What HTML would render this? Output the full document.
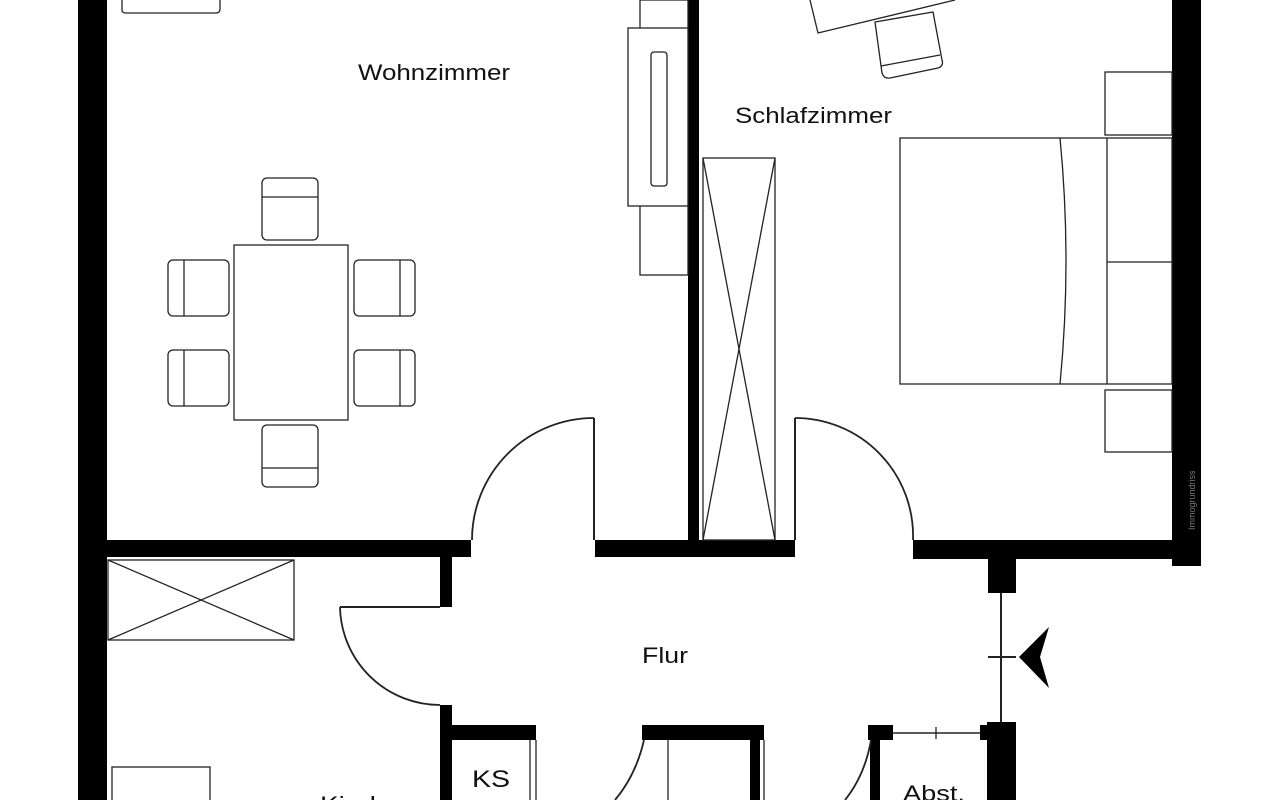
<!DOCTYPE html>
<html><head><meta charset="utf-8"><style>
html,body{margin:0;padding:0;background:#fff;}
svg{display:block;}
text{font-family:"Liberation Sans",sans-serif;fill:#111;}
</style></head><body>
<svg width="1280" height="800" viewBox="0 0 1280 800" xmlns="http://www.w3.org/2000/svg">
<g fill="#000">
<rect x="78" y="0" width="29" height="800"/>
<rect x="688" y="0" width="11" height="557"/>
<rect x="1172" y="0" width="29" height="566"/>
<rect x="106" y="540" width="365" height="17"/>
<rect x="595" y="540" width="200" height="17"/>
<rect x="913" y="540" width="288" height="19"/>
<rect x="988" y="556" width="28" height="37"/>
<rect x="987" y="722" width="29" height="78"/>
<rect x="980" y="725" width="10" height="15"/>
<rect x="440" y="557" width="12" height="50"/>
<rect x="440" y="705" width="12" height="95"/>
<rect x="452" y="725" width="84" height="15"/>
<rect x="642" y="725" width="122" height="15"/>
<rect x="750" y="740" width="10" height="60"/>
<rect x="868" y="725" width="25" height="15"/>
<rect x="870" y="740" width="10" height="60"/>
<path d="M1019,657 L1049,627 L1040,657 L1049,688 Z"/>
</g>
<g fill="none" stroke="#222" stroke-width="1.3">
<path d="M122,0 V10 Q122,13 126,13 H216 Q220,13 220,9 V0"/>
<rect x="640" y="0" width="48" height="275"/>
<rect x="628" y="28" width="60" height="178" fill="#fff"/>
<rect x="651" y="52" width="16" height="134" rx="3"/>
<rect x="234" y="245" width="114" height="175"/>
<rect x="262" y="178" width="56" height="62" rx="5"/><line x1="262" y1="197" x2="318" y2="197"/>
<rect x="262" y="425" width="56" height="62" rx="5"/><line x1="262" y1="468" x2="318" y2="468"/>
<rect x="168" y="260" width="61" height="56" rx="5"/><line x1="184" y1="260" x2="184" y2="316"/>
<rect x="168" y="350" width="61" height="56" rx="5"/><line x1="184" y1="350" x2="184" y2="406"/>
<rect x="354" y="260" width="61" height="56" rx="5"/><line x1="400" y1="260" x2="400" y2="316"/>
<rect x="354" y="350" width="61" height="56" rx="5"/><line x1="400" y1="350" x2="400" y2="406"/>
<line x1="594" y1="418" x2="594" y2="540" stroke-width="2"/>
<path d="M594,418 A122,122 0 0 0 472,540" stroke-width="1.8"/>
<path d="M810,0 L818,33 L955,0"/>
<path d="M875,22 L933,12 L942,60 Q944,66 938,68 L890,78 Q884,79 882,73 Z"/>
<line x1="881" y1="66" x2="940" y2="55"/>
<rect x="703" y="158" width="72" height="382"/>
<line x1="703" y1="158" x2="775" y2="540"/><line x1="775" y1="158" x2="703" y2="540"/>
<line x1="795" y1="418" x2="795" y2="540" stroke-width="2"/>
<path d="M795,418 A118,118 0 0 1 913,540" stroke-width="1.8"/>
<rect x="900" y="138" width="272" height="246"/>
<path d="M1060,138 Q1072,261 1060,384"/>
<line x1="1107" y1="138" x2="1107" y2="384"/>
<line x1="1107" y1="262" x2="1172" y2="262"/>
<rect x="1105" y="72" width="67" height="63"/>
<rect x="1105" y="390" width="67" height="62"/>
<rect x="108" y="560" width="186" height="80"/>
<line x1="108" y1="560" x2="294" y2="640"/><line x1="294" y1="560" x2="108" y2="640"/>
<line x1="340" y1="607" x2="440" y2="607" stroke-width="2"/>
<path d="M340,607 A100,100 0 0 0 440,705" stroke-width="1.8"/>
<rect x="112" y="767" width="98" height="40"/>
<line x1="530" y1="740" x2="530" y2="800"/><line x1="536" y1="740" x2="536" y2="800"/>
<line x1="668" y1="740" x2="668" y2="800"/>
<line x1="764" y1="740" x2="764" y2="800"/>
<path d="M644,740 Q636,775 615,800" stroke-width="1.8"/>
<path d="M871,740 Q865,775 845,800" stroke-width="1.8"/>
<line x1="893" y1="733" x2="980" y2="733" stroke-width="1.5"/>
<line x1="936" y1="727" x2="936" y2="739"/>
<line x1="1001" y1="593" x2="1001" y2="722" stroke-width="2"/>
<line x1="988" y1="657" x2="1016" y2="657" stroke-width="2"/>
</g>
<g font-size="22">
<text x="358" y="80" textLength="152" lengthAdjust="spacingAndGlyphs">Wohnzimmer</text>
<text x="735" y="123" textLength="157" lengthAdjust="spacingAndGlyphs">Schlafzimmer</text>
<text x="642" y="663" textLength="46" lengthAdjust="spacingAndGlyphs">Flur</text>
<text x="472" y="787" font-size="24" textLength="38" lengthAdjust="spacingAndGlyphs">KS</text>
<text x="903" y="801" textLength="62" lengthAdjust="spacingAndGlyphs">Abst.</text>
<text x="320" y="812" textLength="56" lengthAdjust="spacingAndGlyphs">Kind</text>
</g>
<text x="1195" y="530" font-size="9" style="fill:#777" transform="rotate(-90 1195 530)">Immogrundriss</text>
</svg>
</body></html>
